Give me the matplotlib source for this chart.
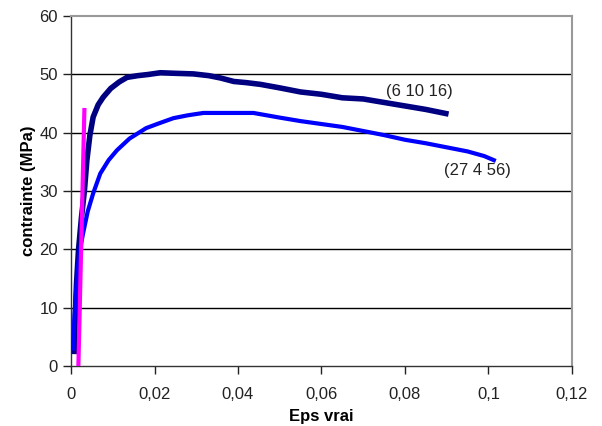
import matplotlib
matplotlib.use('Agg')
import matplotlib.pyplot as plt

plt.rcParams['font.family'] = ['Liberation Sans', 'DejaVu Sans']

# courbe (6 10 16)
eps_a = [0.0008, 0.0010, 0.0013, 0.0018, 0.0025, 0.0032, 0.0038, 0.0045, 0.0053,
         0.0065, 0.0077, 0.0095, 0.0115, 0.0134, 0.016, 0.0185, 0.0214, 0.025,
         0.0293, 0.0330, 0.0358, 0.039, 0.0420, 0.0454, 0.050, 0.055, 0.060,
         0.065, 0.070, 0.075, 0.080, 0.085, 0.0898]
sig_a = [2.5, 8.0, 14.0, 20.0, 25.5, 30.0, 35.3, 39.5, 42.7, 44.8, 46.1, 47.6,
         48.7, 49.5, 49.8, 50.0, 50.3, 50.2, 50.1, 49.8, 49.4, 48.8, 48.6, 48.3,
         47.7, 47.0, 46.6, 46.0, 45.8, 45.2, 44.6, 44.0, 43.3]

# courbe (27 4 56)
eps_b = [0.0005, 0.0008, 0.0012, 0.0018, 0.0023, 0.0029, 0.0040, 0.0053, 0.0070,
         0.0090, 0.011, 0.014, 0.018, 0.021, 0.0245, 0.028, 0.0317, 0.036,
         0.0437, 0.050, 0.055, 0.060, 0.065, 0.070, 0.075, 0.080, 0.085, 0.090,
         0.095, 0.0990, 0.1013]
sig_b = [3.0, 8.0, 13.0, 18.0, 20.5, 22.8, 26.5, 29.6, 33.0, 35.3, 37.0, 39.0,
         40.8, 41.6, 42.5, 43.0, 43.4, 43.4, 43.4, 42.6, 42.0, 41.5, 41.0, 40.3,
         39.6, 38.8, 38.2, 37.5, 36.8, 36.0, 35.3]

# droite elastique
eps_c = [0.00176, 0.0032]
sig_c = [0.0, 43.9]

fig = plt.figure(figsize=(6.02, 4.26), dpi=100)
ax = fig.add_axes([0.118, 0.141, 0.832, 0.821])

for y in [10, 20, 30, 40, 50]:
    ax.axhline(y, color='black', lw=1.0, zorder=1)

ax.plot(eps_a, sig_a, color='#000080', lw=4.0, zorder=3)
ax.plot(eps_b, sig_b, color='#0000FF', lw=3.0, zorder=3)
ax.plot(eps_c, sig_c, color='#FF00FF', lw=3.0, zorder=4)

ax.text(0.0754, 47.1, '(6 10 16)', fontsize=12, va='center', ha='left', color='#222222')
ax.text(0.0893, 33.6, '(27 4 56)', fontsize=12, va='center', ha='left', color='#222222')

ax.set_xlim(0, 0.12)
ax.set_ylim(0, 60)
ax.set_xticks([0, 0.02, 0.04, 0.06, 0.08, 0.1, 0.12])
ax.set_xticklabels(['0', '0,02', '0,04', '0,06', '0,08', '0,1', '0,12'])
ax.set_yticks(range(0, 61, 10))
ax.tick_params(axis='both', direction='out', length=6, width=1, labelsize=12,
               colors='#222222')
ax.tick_params(axis='x', pad=9)

for s in ['left', 'bottom']:
    ax.spines[s].set_color('#333333')
    ax.spines[s].set_linewidth(1.0)
for s in ['top', 'right']:
    ax.spines[s].set_color('#999999')
    ax.spines[s].set_linewidth(1.5)

ax.set_xlabel('Eps vrai', fontsize=12, fontweight='bold', labelpad=5)
ax.set_ylabel('contrainte (MPa)', fontsize=12, fontweight='bold', labelpad=2)

fig.savefig('out.png', dpi=100)
